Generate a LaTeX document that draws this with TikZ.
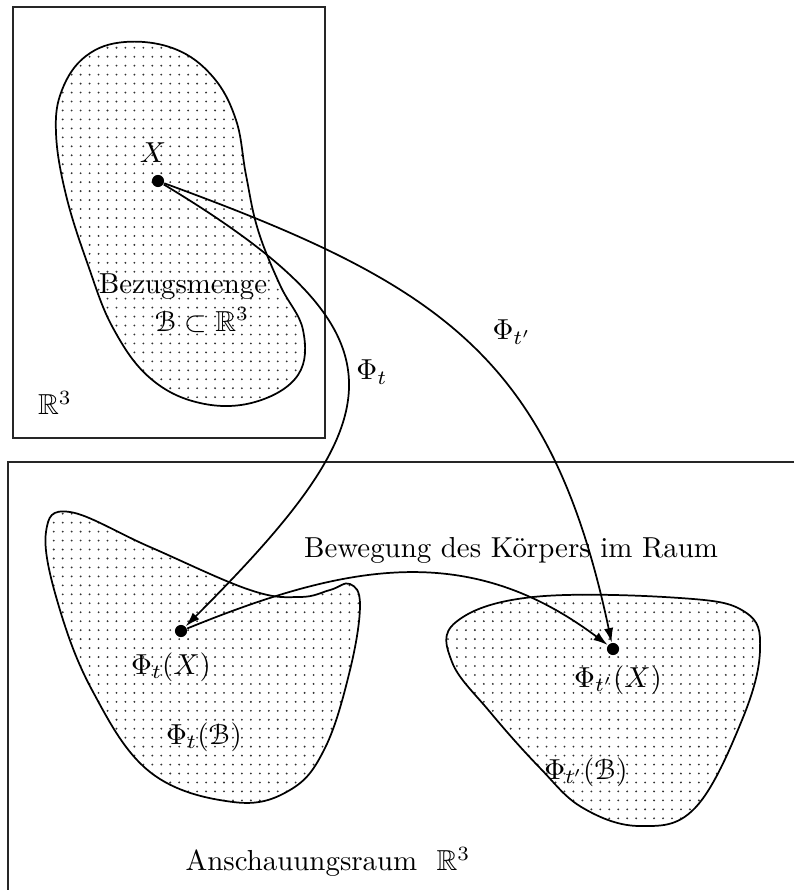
\documentclass[tikz,border=0pt]{standalone}
\usepackage{amsmath}
\usepackage{amssymb}
\usepackage[mathscr]{eucal}
\usepackage{tikz}
\usetikzlibrary{arrows.meta, patterns}
\pgfdeclarepatternformonly{sparsedots}{\pgfqpoint{-1pt}{-1pt}}{\pgfqpoint{1pt}{1pt}}{\pgfqpoint{3.1pt}{3.1pt}}{
  \pgfpathcircle{\pgfpointorigin}{0.36pt}
  \pgfusepath{fill}
}
\tikzset{
  pt/.style={circle, fill=black, inner sep=0pt, minimum size=4.2pt},
  body/.style={draw=black, semithick, pattern=sparsedots, pattern color=black!80},
  frame/.style={draw=black!85, semithick},
  map/.style={-{Latex[length=5pt, width=3.2pt]}, semithick},
}

\begin{document}
\begin{tikzpicture}[x=0.346pt, y=-0.346pt]
\useasboundingbox (0,0) rectangle (794,890);
% reference space and physical space
\draw[frame] (13,7) rectangle (325,438);
\draw[frame] (794,462) -- (8,462) -- (8,890);
% reference body
\draw[body] plot[smooth cycle, tension=0.65] coordinates {(125,42) (175,49) (213,77) (236,120) (246,175)
  (258,230) (280,285) (303,330) (298,375) (255,402) (200,403) (150,378) (113,328) (88,265)
  (66,195) (56,133) (62,90) (86,56)};
% current configurations
\draw[body] plot[smooth cycle, tension=0.65] coordinates {(70,512) (150,547) (250,590) (300,597)
  (330,590) (350,584) (360,605) (350,670) (325,748) (290,790) (233,802) (150,772) (92,690)
  (57,600) (46,532)};
\draw[body] plot[smooth cycle, tension=0.65] coordinates {(533,597) (680,598) (745,612) (760,650)
  (742,720) (695,808) (640,826) (583,808) (540,768) (490,712) (452,662) (456,622)};

\node[pt] (X) at (158,181) {};
\node[pt] (PtX) at (181,631) {};
\node[pt] (PsX) at (613,649) {};

\node (lX) at (153,153) {$X$};
\node (lbez) at (183,287) {Bezugsmenge};
\node (lB) at (202,320) {$\mathscr{B}\subset\mathbb{R}^3$};
\node (lR) at (55,403) {$\mathbb{R}^3$};
\node (lPtX) at (171,667) {$\Phi_t(X)$};
\node (lPtB) at (204,737) {$\Phi_t(\mathscr{B})$};
\node (lPsX) at (618,680) {$\Phi_{t'}(X)$};
\node (lPsB) at (586,772) {$\Phi_{t'}(\mathscr{B})$};
\node (lphit) at (372,372) {$\Phi_t$};
\node (lphis) at (512,332) {$\Phi_{t'}$};
\node (lmove) at (511,550) {Bewegung des K\"orpers im Raum};
\node (lspace) at (328,862) {Anschauungsraum~~$\mathbb{R}^3$};

\draw[map] (X) .. controls (415,336) and (396,416) .. (PtX);
\draw[map] (X) .. controls (440,284) and (551,356) .. (PsX);
\draw[map] (PtX) .. controls (348,563) and (469,541) .. (PsX);
\end{tikzpicture}
\end{document}
